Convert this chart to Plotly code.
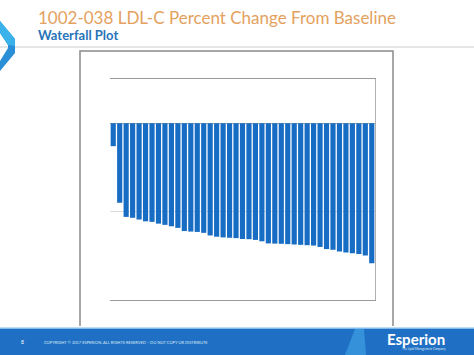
import plotly.graph_objects as go

W, H = 474, 355

patients = list(range(1, 42))
pct_change = [-13, -45, -53, -53.5, -54.5, -55.5, -55.8, -56.8, -57.5, -58.3,
              -59.2, -61, -61.3, -61.5, -62, -63.5, -64.2, -64.6, -64.8, -65,
              -65.5, -65.6, -66, -66.8, -68, -68.1, -68.2, -68.4, -68.6, -68.8,
              -69, -69.2, -70, -71.2, -71.6, -72.5, -73.2, -73.6, -74, -74.8, -79.2]

title_text = "1002-038 LDL-C Percent Change From Baseline"
subtitle_text = "Waterfall Plot"
footer_text = "COPYRIGHT \u00a9 2017 ESPERION. ALL RIGHTS RESERVED \u2013 DO NOT COPY OR DISTRIBUTE"


def px(x, y):
    return x / W, 1 - y / H


def path(points):
    s = ""
    for i, (x, y) in enumerate(points):
        a, b = px(x, y)
        s += ("M" if i == 0 else "L") + f"{a:.5f},{b:.5f} "
    return s + "Z"


fig = go.Figure()
fig.add_trace(go.Bar(x=patients, y=pct_change, marker=dict(color="#176CC4", line=dict(width=0)),
                     hoverinfo="y"))

x0, x1 = px(110, 0)[0], px(375, 0)[0]
ybot, ytop = px(0, 300)[1], px(0, 79)[1]

shapes = []
# outer frame of the chart picture
shapes.append(dict(type="path", xref="paper", yref="paper",
                   path=f"M{px(80,326)[0]},{px(80,326)[1]} L{px(80,51)[0]},{px(80,51)[1]} L{px(393,51)[0]},{px(393,51)[1]} L{px(393,326)[0]},{px(393,326)[1]}",
                   line=dict(color="#8a8a8a", width=1.5), layer="below"))
# separator under title
shapes.append(dict(type="rect", xref="paper", yref="paper",
                   x0=0, x1=1, y0=px(0, 48)[1], y1=px(0, 46)[1],
                   fillcolor="#e6e6e6", line=dict(width=0)))
# left chevron
shapes.append(dict(type="path", xref="paper", yref="paper",
                   path=path([(0, 21), (15, 39), (15, 53), (0, 71), (0, 61), (8, 48), (8, 45), (0, 33)]),
                   fillcolor="#2A8FD6", line=dict(width=0)))
shapes.append(dict(type="path", xref="paper", yref="paper",
                   path=path([(0, 21), (15, 39), (15, 46), (8, 45), (0, 33)]),
                   fillcolor="#3BB3EA", line=dict(width=0)))
# footer band
shapes.append(dict(type="rect", xref="paper", yref="paper",
                   x0=0, x1=1, y0=0, y1=px(0, 328)[1],
                   fillcolor="#1F70C4", line=dict(width=0)))
shapes.append(dict(type="rect", xref="paper", yref="paper",
                   x0=0, x1=1, y0=px(0, 329)[1], y1=px(0, 327.5)[1],
                   fillcolor="#7FBCEB", line=dict(width=0)))
shapes.append(dict(type="path", xref="paper", yref="paper",
                   path=path([(345, 355), (355, 329), (364, 329), (366, 355)]),
                   fillcolor="#3591DA", line=dict(width=0)))

annotations = [
    dict(text=title_text, x=px(36, 0)[0], y=px(0, 17)[1], xref="paper", yref="paper",
         xanchor="left", yanchor="middle", showarrow=False,
         font=dict(family="Lato", size=17, color="#E4A15E")),
    dict(text="<b>" + subtitle_text + "</b>", x=px(36, 0)[0], y=px(0, 35)[1], xref="paper", yref="paper",
         xanchor="left", yanchor="middle", showarrow=False,
         font=dict(family="Lato", size=13, color="#2773B8")),
    dict(text="8", x=px(22, 0)[0], y=px(0, 342)[1], xref="paper", yref="paper",
         xanchor="center", yanchor="middle", showarrow=False,
         font=dict(family="Lato", size=5, color="#ffffff")),
    dict(text=footer_text, x=px(42, 0)[0], y=px(0, 342)[1], xref="paper", yref="paper",
         xanchor="left", yanchor="middle", showarrow=False,
         font=dict(family="Lato", size=4, color="#dbe9f7")),
    dict(text="<b>Esperion</b>", x=px(385, 0)[0], y=px(0, 339)[1], xref="paper", yref="paper",
         xanchor="left", yanchor="middle", showarrow=False,
         font=dict(family="Lato", size=15, color="#ffffff")),
    dict(text="The Lipid Management Company", x=px(400, 0)[0], y=px(0, 349)[1], xref="paper", yref="paper",
         xanchor="left", yanchor="middle", showarrow=False,
         font=dict(family="Lato", size=3, color="#dbe9f7")),
]

fig.update_layout(
    width=W, height=H,
    margin=dict(l=0, r=0, t=0, b=0),
    paper_bgcolor="#ffffff", plot_bgcolor="#ffffff",
    showlegend=False, bargap=0.2,
    shapes=shapes, annotations=annotations,
    xaxis=dict(domain=[x0, x1], range=[0.5, 41.5], showticklabels=False, ticks="",
               showgrid=False, zeroline=False, showline=True, mirror=True,
               linecolor="#9a9a9a", linewidth=1),
    yaxis=dict(domain=[ybot, ytop], range=[-100, 25], showticklabels=False, ticks="",
               tickvals=[-50], showgrid=True, gridcolor="#dcdcdc",
               zeroline=True, zerolinecolor="#a8a8a8", zerolinewidth=1,
               showline=True, side="right", linecolor="#b0b0b0", linewidth=1),
)

fig.write_html("out.html", config={"displayModeBar": False},
               post_script="document.body.style.margin='0';document.body.style.overflow='hidden';")
